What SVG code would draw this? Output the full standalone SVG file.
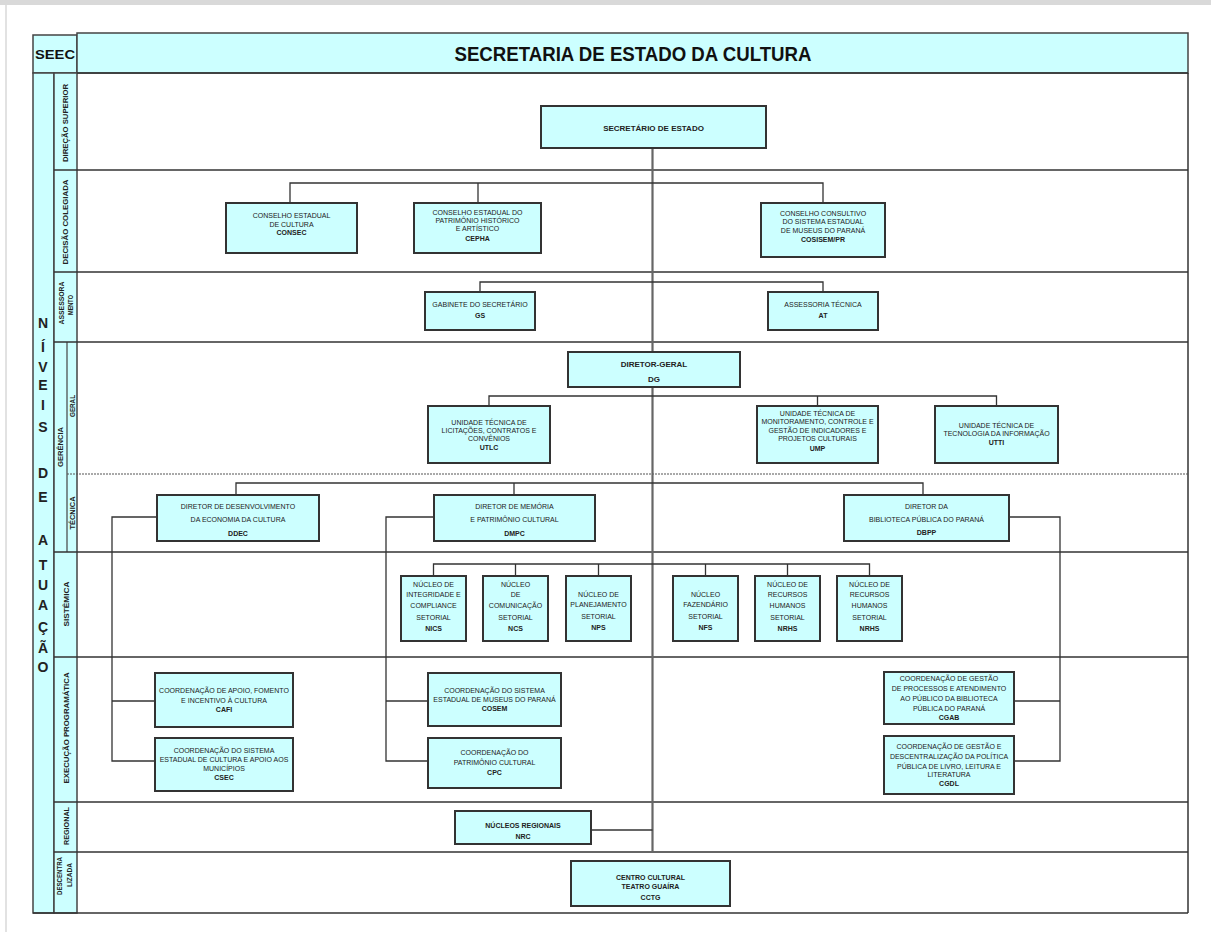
<svg xmlns="http://www.w3.org/2000/svg" width="1211" height="932" viewBox="0 0 1211 932">
<style>
.box{fill:#ccffff;stroke:#333;stroke-width:2}
.frame{fill:#ccffff;stroke:#444;stroke-width:1.5}
.t{font-family:"Liberation Sans",Arial,sans-serif;font-size:7px;text-anchor:middle;fill:#222}
.b{font-weight:bold}
.big{font-size:8px;font-weight:bold}
.conn{fill:none;stroke:#333;stroke-width:1.3}
.trunk{fill:none;stroke:#666;stroke-width:2.2}
.row{stroke:#333;stroke-width:1.5}
.lbl{font-family:"Liberation Sans",Arial,sans-serif;font-size:6.5px;font-weight:bold;text-anchor:middle;fill:#222}
.lv{font-family:"Liberation Sans",Arial,sans-serif;font-size:14px;font-weight:bold;text-anchor:middle;fill:#222}
</style>
<rect x="0" y="0" width="1211" height="932" fill="#fff"/>
<rect x="0" y="0" width="1211" height="5" fill="#d9d9d9"/>
<line x1="6" y1="5" x2="6" y2="932" stroke="#e2e2e2" stroke-width="2"/>

<g id="frame">
<rect class="frame" x="33" y="35" width="44" height="38"/>
<text x="55" y="59" font-family="Liberation Sans,Arial,sans-serif" font-size="13" font-weight="bold" text-anchor="middle" fill="#111" textLength="40" lengthAdjust="spacingAndGlyphs">SEEC</text>
<rect class="frame" x="77" y="33" width="1111" height="40" stroke-width="2"/>
<text x="633" y="61" font-family="Liberation Sans,Arial,sans-serif" font-size="20" font-weight="bold" text-anchor="middle" fill="#111" textLength="357" lengthAdjust="spacingAndGlyphs">SECRETARIA DE ESTADO DA CULTURA</text>
<rect class="frame" x="33" y="73" width="21" height="840"/>
<rect class="frame" x="54" y="73" width="23" height="840"/>
<line x1="67" y1="342" x2="67" y2="552" stroke="#444" stroke-width="1.2"/>
<line x1="77" y1="73" x2="1188" y2="73" class="row"/>
<line x1="1188" y1="73" x2="1188" y2="913" class="row"/>
<line x1="33" y1="913" x2="1188" y2="913" class="row"/>
<line x1="54" y1="170" x2="1188" y2="170" class="row"/>
<line x1="54" y1="272" x2="1188" y2="272" class="row"/>
<line x1="54" y1="342" x2="1188" y2="342" class="row"/>
<line x1="67" y1="474" x2="1188" y2="474" stroke="#555" stroke-width="1.2" stroke-dasharray="2,1"/>
<line x1="54" y1="552" x2="1188" y2="552" class="row"/>
<line x1="54" y1="657" x2="1188" y2="657" class="row"/>
<line x1="54" y1="802" x2="1188" y2="802" class="row"/>
<line x1="54" y1="852" x2="1188" y2="852" class="row"/>
</g>

<g id="niveis">
<text class="lv" x="43" y="328">N</text>
<text class="lv" x="43" y="352">Í</text>
<text class="lv" x="43" y="372">V</text>
<text class="lv" x="43" y="390">E</text>
<text class="lv" x="43" y="410">I</text>
<text class="lv" x="43" y="432">S</text>
<text class="lv" x="43" y="478">D</text>
<text class="lv" x="43" y="502">E</text>
<text class="lv" x="43" y="545">A</text>
<text class="lv" x="43" y="570">T</text>
<text class="lv" x="43" y="590">U</text>
<text class="lv" x="43" y="610">A</text>
<text class="lv" x="43" y="632">Ç</text>
<text class="lv" x="43" y="653">Ã</text>
<text class="lv" x="43" y="672">O</text>
</g>

<g id="row-labels">
<text class="lbl" transform="translate(67.5,123) rotate(-90)" textLength="78" lengthAdjust="spacingAndGlyphs">DIREÇÃO SUPERIOR</text>
<text class="lbl" transform="translate(67.5,222) rotate(-90)" textLength="85" lengthAdjust="spacingAndGlyphs">DECISÃO COLEGIADA</text>
<text class="lbl" transform="translate(64,303) rotate(-90)" textLength="43" lengthAdjust="spacingAndGlyphs">ASSESSORA</text>
<text class="lbl" transform="translate(73,305) rotate(-90)" textLength="20" lengthAdjust="spacingAndGlyphs">MENTO</text>
<text class="lbl" transform="translate(63,447) rotate(-90)" textLength="40" lengthAdjust="spacingAndGlyphs">GERÊNCIA</text>
<text class="lbl" transform="translate(74.5,406) rotate(-90)" textLength="22" lengthAdjust="spacingAndGlyphs">GERAL</text>
<text class="lbl" transform="translate(74.5,513) rotate(-90)" textLength="33" lengthAdjust="spacingAndGlyphs">TÉCNICA</text>
<text class="lbl" transform="translate(68.5,604) rotate(-90)" textLength="45" lengthAdjust="spacingAndGlyphs">SISTÊMICA</text>
<text class="lbl" transform="translate(68.5,728) rotate(-90)" textLength="111" lengthAdjust="spacingAndGlyphs">EXECUÇÃO PROGRAMÁTICA</text>
<text class="lbl" transform="translate(68.5,826) rotate(-90)" textLength="38" lengthAdjust="spacingAndGlyphs">REGIONAL</text>
<text class="lbl" transform="translate(62,876) rotate(-90)" textLength="38" lengthAdjust="spacingAndGlyphs">DESCENTRA</text>
<text class="lbl" transform="translate(72,875) rotate(-90)" textLength="24" lengthAdjust="spacingAndGlyphs">LIZADA</text>
</g>

<g id="connectors">
<line class="trunk" x1="652.5" y1="148" x2="652.5" y2="852"/>
<polyline class="conn" points="290,203 290,183 823,183 823,203"/>
<line class="conn" x1="478" y1="183" x2="478" y2="203"/>
<polyline class="conn" points="480,292 480,282 823,282 823,292"/>
<polyline class="conn" points="489,406 489,396 996.5,396 996.5,406"/>
<line class="conn" x1="817.5" y1="396" x2="817.5" y2="406"/>
<polyline class="conn" points="236,495 236,483 923,483 923,495"/>
<line class="conn" x1="514" y1="483" x2="514" y2="495"/>
<polyline class="conn" points="157,517 112,517 112,761 155,761"/>
<line class="conn" x1="112" y1="701" x2="155" y2="701"/>
<polyline class="conn" points="434,517 386,517 386,761 428,761"/>
<line class="conn" x1="386" y1="701" x2="428" y2="701"/>
<polyline class="conn" points="1009,517 1060,517 1060,761 1014,761"/>
<line class="conn" x1="1060" y1="701" x2="1014" y2="701"/>
<polyline class="conn" points="433.5,576 433.5,564 869.5,564 869.5,576"/>
<line class="conn" x1="515.5" y1="564" x2="515.5" y2="576"/>
<line class="conn" x1="598.5" y1="564" x2="598.5" y2="576"/>
<line class="conn" x1="705.5" y1="564" x2="705.5" y2="576"/>
<line class="conn" x1="787.5" y1="564" x2="787.5" y2="576"/>
<line class="conn" x1="591" y1="830" x2="652.5" y2="830"/>
</g>

<g id="secretario">
<rect class="box" x="541" y="106" width="225" height="42"/>
<text class="t big" x="653.5" y="131">SECRETÁRIO DE ESTADO</text>
</g>

<g id="consec">
<rect class="box" x="226" y="203" width="131" height="50"/>
<text class="t" x="291.5" y="218">CONSELHO ESTADUAL</text>
<text class="t" x="291.5" y="226.5">DE CULTURA</text>
<text class="t b" x="291.5" y="235">CONSEC</text>
</g>
<g id="cepha">
<rect class="box" x="414" y="203" width="127" height="50"/>
<text class="t" x="477.5" y="214.5">CONSELHO ESTADUAL DO</text>
<text class="t" x="477.5" y="222.5">PATRIMÔNIO HISTÓRICO</text>
<text class="t" x="477.5" y="231">E ARTÍSTICO</text>
<text class="t b" x="477.5" y="241">CEPHA</text>
</g>
<g id="cosisem">
<rect class="box" x="761" y="203" width="124" height="54"/>
<text class="t" x="823" y="215.5">CONSELHO CONSULTIVO</text>
<text class="t" x="823" y="224">DO SISTEMA ESTADUAL</text>
<text class="t" x="823" y="232.5">DE MUSEUS DO PARANÁ</text>
<text class="t b" x="823" y="242">COSISEM/PR</text>
</g>

<g id="gs">
<rect class="box" x="425" y="292" width="110" height="38"/>
<text class="t" x="480" y="307">GABINETE DO SECRETÁRIO</text>
<text class="t b" x="480" y="318">GS</text>
</g>
<g id="at">
<rect class="box" x="768" y="292" width="110" height="38"/>
<text class="t" x="823" y="307">ASSESSORIA TÉCNICA</text>
<text class="t b" x="823" y="318">AT</text>
</g>

<g id="dg">
<rect class="box" x="568" y="352" width="172" height="35"/>
<text class="t big" x="654" y="367">DIRETOR-GERAL</text>
<text class="t big" x="654" y="382">DG</text>
</g>
<g id="utlc">
<rect class="box" x="428" y="406" width="122" height="57"/>
<text class="t" x="489" y="425">UNIDADE TÉCNICA DE</text>
<text class="t" x="489" y="433">LICITAÇÕES, CONTRATOS E</text>
<text class="t" x="489" y="441">CONVÊNIOS</text>
<text class="t b" x="489" y="449.5">UTLC</text>
</g>
<g id="ump">
<rect class="box" x="757" y="406" width="121" height="57"/>
<text class="t" x="817.5" y="415.5">UNIDADE TÉCNICA DE</text>
<text class="t" x="817.5" y="424">MONITORAMENTO, CONTROLE E</text>
<text class="t" x="817.5" y="432.5">GESTÃO DE INDICADORES E</text>
<text class="t" x="817.5" y="441">PROJETOS CULTURAIS</text>
<text class="t b" x="817.5" y="450.5">UMP</text>
</g>
<g id="utti">
<rect class="box" x="935" y="406" width="123" height="57"/>
<text class="t" x="996.5" y="427.5">UNIDADE TÉCNICA DE</text>
<text class="t" x="996.5" y="435.5">TECNOLOGIA DA INFORMAÇÃO</text>
<text class="t b" x="996.5" y="444.5">UTTI</text>
</g>

<g id="ddec">
<rect class="box" x="157" y="495" width="162" height="46"/>
<text class="t" x="238" y="508.5">DIRETOR DE DESENVOLVIMENTO</text>
<text class="t" x="238" y="521.5">DA ECONOMIA DA CULTURA</text>
<text class="t b" x="238" y="535.5">DDEC</text>
</g>
<g id="dmpc">
<rect class="box" x="434" y="495" width="161" height="46"/>
<text class="t" x="514.5" y="508.5">DIRETOR DE MEMÓRIA</text>
<text class="t" x="514.5" y="521.5">E PATRIMÔNIO CULTURAL</text>
<text class="t b" x="514.5" y="535.5">DMPC</text>
</g>
<g id="dbpp">
<rect class="box" x="844" y="495" width="165" height="46"/>
<text class="t" x="926.5" y="508.5">DIRETOR DA</text>
<text class="t" x="926.5" y="521.5">BIBLIOTECA PÚBLICA DO PARANÁ</text>
<text class="t b" x="926.5" y="535">DBPP</text>
</g>

<g id="nics">
<rect class="box" x="401" y="576" width="65" height="65"/>
<text class="t" x="433.5" y="586.5">NÚCLEO DE</text>
<text class="t" x="433.5" y="597">INTEGRIDADE E</text>
<text class="t" x="433.5" y="608">COMPLIANCE</text>
<text class="t" x="433.5" y="619.5">SETORIAL</text>
<text class="t b" x="433.5" y="631">NICS</text>
</g>
<g id="ncs">
<rect class="box" x="483" y="576" width="65" height="65"/>
<text class="t" x="515.5" y="586.5">NÚCLEO</text>
<text class="t" x="515.5" y="597">DE</text>
<text class="t" x="515.5" y="608">COMUNICAÇÃO</text>
<text class="t" x="515.5" y="619.5">SETORIAL</text>
<text class="t b" x="515.5" y="631">NCS</text>
</g>
<g id="nps">
<rect class="box" x="566" y="576" width="65" height="65"/>
<text class="t" x="598.5" y="596.5">NÚCLEO DE</text>
<text class="t" x="598.5" y="607">PLANEJAMENTO</text>
<text class="t" x="598.5" y="619">SETORIAL</text>
<text class="t b" x="598.5" y="630">NPS</text>
</g>
<g id="nfs">
<rect class="box" x="673" y="576" width="65" height="65"/>
<text class="t" x="705.5" y="596.5">NÚCLEO</text>
<text class="t" x="705.5" y="607">FAZENDÁRIO</text>
<text class="t" x="705.5" y="619">SETORIAL</text>
<text class="t b" x="705.5" y="630">NFS</text>
</g>
<g id="nrhs1">
<rect class="box" x="755" y="576" width="65" height="65"/>
<text class="t" x="787.5" y="586.5">NÚCLEO DE</text>
<text class="t" x="787.5" y="597">RECURSOS</text>
<text class="t" x="787.5" y="608">HUMANOS</text>
<text class="t" x="787.5" y="619.5">SETORIAL</text>
<text class="t b" x="787.5" y="631">NRHS</text>
</g>
<g id="nrhs2">
<rect class="box" x="837" y="576" width="65" height="65"/>
<text class="t" x="869.5" y="586.5">NÚCLEO DE</text>
<text class="t" x="869.5" y="597">RECURSOS</text>
<text class="t" x="869.5" y="608">HUMANOS</text>
<text class="t" x="869.5" y="619.5">SETORIAL</text>
<text class="t b" x="869.5" y="631">NRHS</text>
</g>

<g id="cafi">
<rect class="box" x="155" y="673" width="138" height="54"/>
<text class="t" x="224" y="692.5">COORDENAÇÃO DE APOIO, FOMENTO</text>
<text class="t" x="224" y="702.5">E INCENTIVO À CULTURA</text>
<text class="t b" x="224" y="711.5">CAFI</text>
</g>
<g id="csec">
<rect class="box" x="155" y="738" width="138" height="53"/>
<text class="t" x="224" y="752.5">COORDENAÇÃO DO SISTEMA</text>
<text class="t" x="224" y="761.5">ESTADUAL DE CULTURA E APOIO AOS</text>
<text class="t" x="224" y="770.5">MUNICÍPIOS</text>
<text class="t b" x="224" y="779.5">CSEC</text>
</g>
<g id="cosem">
<rect class="box" x="428" y="673" width="133" height="53"/>
<text class="t" x="494.5" y="692.5">COORDENAÇÃO DO SISTEMA</text>
<text class="t" x="494.5" y="701.5">ESTADUAL DE MUSEUS DO PARANÁ</text>
<text class="t b" x="494.5" y="710.5">COSEM</text>
</g>
<g id="cpc">
<rect class="box" x="428" y="738" width="133" height="50"/>
<text class="t" x="494.5" y="754.5">COORDENAÇÃO DO</text>
<text class="t" x="494.5" y="764.5">PATRIMÔNIO CULTURAL</text>
<text class="t b" x="494.5" y="774.5">CPC</text>
</g>
<g id="cgab">
<rect class="box" x="884" y="672" width="130" height="52"/>
<text class="t" x="949" y="680.5">COORDENAÇÃO DE GESTÃO</text>
<text class="t" x="949" y="691">DE PROCESSOS E ATENDIMENTO</text>
<text class="t" x="949" y="701">AO PÚBLICO DA BIBLIOTECA</text>
<text class="t" x="949" y="710.5">PÚBLICA DO PARANÁ</text>
<text class="t b" x="949" y="720">CGAB</text>
</g>
<g id="cgdl">
<rect class="box" x="884" y="736" width="130" height="58"/>
<text class="t" x="949" y="749">COORDENAÇÃO DE GESTÃO E</text>
<text class="t" x="949" y="759">DESCENTRALIZAÇÃO DA POLÍTICA</text>
<text class="t" x="949" y="768.5">PÚBLICA DE LIVRO, LEITURA E</text>
<text class="t" x="949" y="777">LITERATURA</text>
<text class="t b" x="949" y="786">CGDL</text>
</g>

<g id="nrc">
<rect class="box" x="455" y="811" width="136" height="33"/>
<text class="t b" x="523" y="828">NÚCLEOS REGIONAIS</text>
<text class="t b" x="523" y="838.5">NRC</text>
</g>
<g id="cctg">
<rect class="box" x="571" y="861" width="159" height="45"/>
<text class="t b" x="650.5" y="879.5">CENTRO CULTURAL</text>
<text class="t b" x="650.5" y="889">TEATRO GUAÍRA</text>
<text class="t b" x="650.5" y="899.5">CCTG</text>
</g>
</svg>
